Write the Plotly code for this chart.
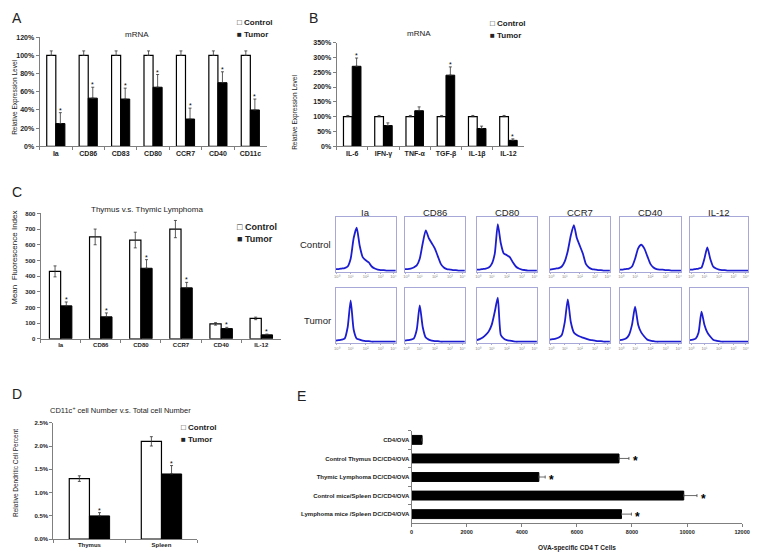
import plotly.graph_objects as go

# The page adds an 8px body margin, so the figure is made smaller and all
# reference pixel positions are shifted by that margin.
PAGE_W, PAGE_H, PAD = 761, 558, 8
W, H = PAGE_W - PAD, PAGE_H - PAD

# ---------------- data ----------------
a_cats = ["Ia", "CD86", "CD83", "CD80", "CCR7", "CD40", "CD11c"]
a_control = [1.00, 1.00, 1.00, 1.00, 1.00, 1.00, 1.00]
a_control_err = [0.05, 0.05, 0.05, 0.05, 0.05, 0.05, 0.05]
a_tumor = [0.25, 0.53, 0.52, 0.65, 0.30, 0.70, 0.40]
a_tumor_err = [0.12, 0.12, 0.12, 0.14, 0.12, 0.12, 0.12]
a_sig = [True, True, True, True, True, True, True]

b_cats = ["IL-6", "IFN-γ", "TNF-α", "TGF-β", "IL-1β", "IL-12"]
b_control = [1.00, 1.00, 1.00, 1.00, 1.00, 1.00]
b_control_err = [0.04, 0.04, 0.04, 0.04, 0.04, 0.04]
b_tumor = [2.70, 0.70, 1.20, 2.40, 0.60, 0.20]
b_tumor_err = [0.28, 0.09, 0.13, 0.28, 0.08, 0.05]
b_sig = [True, False, False, True, False, True]

c_cats = ["Ia", "CD86", "CD80", "CCR7", "CD40", "IL-12"]
c_control = [430, 650, 630, 700, 95, 130]
c_control_err = [35, 50, 50, 55, 8, 8]
c_tumor = [210, 140, 450, 325, 65, 25]
c_tumor_err = [25, 25, 55, 35, 8, 5]
c_sig = [True, True, True, True, True, True]

d_cats = ["Thymus", "Spleen"]
d_control = [1.30, 2.10]
d_control_err = [0.06, 0.10]
d_tumor = [0.50, 1.40]
d_tumor_err = [0.07, 0.18]
d_sig = [True, True]

e_cats = ["CD4/OVA", "Control Thymus DC/CD4/OVA", "Thymic Lymphoma DC/CD4/OVA",
          "Control mice/Spleen DC/CD4/OVA", "Lymphoma mice /Spleen DC/CD4/OVA"]
e_values = [380, 7530, 4620, 9880, 7620]
e_err = [0, 360, 230, 480, 360]
e_sig = [False, True, True, True, True]
e_ticks = [0, 2000, 4000, 6000, 8000, 10000, 12000]

hist_markers = ["Ia", "CD86", "CD80", "CCR7", "CD40", "IL-12"]
hist_x = [0.00, 0.05, 0.10, 0.15, 0.20, 0.25, 0.30, 0.35, 0.40, 0.45, 0.50,
          0.55, 0.60, 0.65, 0.70, 0.75, 0.80, 0.85, 0.90, 0.95, 1.00]
hist_control = [
    [0.05, 0.05, 0.06, 0.07, 0.10, 0.25, 0.65, 0.85, 0.50, 0.28, 0.22, 0.18, 0.10, 0.06, 0.04, 0.03, 0.03, 0.02, 0.02, 0.02, 0.02],
    [0.05, 0.05, 0.06, 0.08, 0.12, 0.25, 0.55, 0.80, 0.65, 0.55, 0.45, 0.30, 0.15, 0.08, 0.05, 0.04, 0.03, 0.03, 0.02, 0.02, 0.02],
    [0.04, 0.04, 0.05, 0.06, 0.08, 0.15, 0.35, 0.92, 0.55, 0.35, 0.32, 0.28, 0.18, 0.10, 0.06, 0.04, 0.03, 0.02, 0.02, 0.02, 0.02],
    [0.04, 0.05, 0.06, 0.07, 0.10, 0.20, 0.40, 0.70, 0.90, 0.65, 0.50, 0.35, 0.15, 0.08, 0.05, 0.04, 0.03, 0.03, 0.02, 0.02, 0.02],
    [0.04, 0.04, 0.05, 0.06, 0.10, 0.25, 0.45, 0.52, 0.45, 0.30, 0.15, 0.08, 0.05, 0.04, 0.04, 0.03, 0.03, 0.02, 0.02, 0.02, 0.02],
    [0.04, 0.04, 0.05, 0.06, 0.08, 0.25, 0.47, 0.25, 0.10, 0.06, 0.04, 0.03, 0.03, 0.02, 0.02, 0.02, 0.02, 0.02, 0.02, 0.02, 0.02],
]
hist_tumor = [
    [0.04, 0.05, 0.06, 0.08, 0.30, 0.82, 0.25, 0.08, 0.06, 0.04, 0.03, 0.03, 0.02, 0.02, 0.02, 0.02, 0.02, 0.02, 0.02, 0.02, 0.02],
    [0.04, 0.05, 0.06, 0.08, 0.25, 0.72, 0.30, 0.10, 0.06, 0.04, 0.03, 0.03, 0.02, 0.02, 0.02, 0.02, 0.02, 0.02, 0.02, 0.02, 0.02],
    [0.05, 0.07, 0.10, 0.15, 0.22, 0.35, 0.60, 0.87, 0.15, 0.08, 0.05, 0.04, 0.03, 0.02, 0.02, 0.02, 0.02, 0.02, 0.02, 0.02, 0.02],
    [0.06, 0.07, 0.08, 0.10, 0.15, 0.40, 0.84, 0.40, 0.20, 0.15, 0.12, 0.10, 0.08, 0.06, 0.05, 0.04, 0.03, 0.03, 0.02, 0.02, 0.02],
    [0.05, 0.06, 0.08, 0.15, 0.35, 0.70, 0.35, 0.20, 0.12, 0.06, 0.04, 0.03, 0.02, 0.02, 0.02, 0.02, 0.02, 0.02, 0.02, 0.02, 0.02],
    [0.05, 0.06, 0.08, 0.20, 0.60, 0.35, 0.20, 0.12, 0.06, 0.04, 0.03, 0.02, 0.02, 0.02, 0.02, 0.02, 0.02, 0.02, 0.02, 0.02, 0.02],
]
hist_tickvals = [0.02, 0.25, 0.5, 0.75, 0.96]
hist_ticktext = ["10⁰", "10¹", "10²", "10³", "10⁴"]

# ---------------- helpers ----------------
FONT = "Liberation Sans, Arial, sans-serif"
AXC = "#7f7f7f"
TXT = "#222222"
BW = 0.28  # bar width in category units


def refs(k):
    return ("x" if k == 1 else f"x{k}", "y" if k == 1 else f"y{k}")


def keys(k):
    return ("xaxis" if k == 1 else f"xaxis{k}", "yaxis" if k == 1 else f"yaxis{k}")


def fx(px):
    return min(max((px - PAD) / W, 0.0), 1.0)


def fy(py):
    return min(max(1 - (py - PAD) / H, 0.0), 1.0)


def dom_x(a, b):
    return [fx(a), fx(b)]


def dom_y(top, bottom):
    return [fy(bottom), fy(top)]


fig = go.Figure()
layout = dict(width=W, height=H, margin=dict(l=0, r=0, t=0, b=0),
              paper_bgcolor="white", plot_bgcolor="white", showlegend=False,
              barmode="overlay", font=dict(family=FONT, color=TXT))
annotations = []


def ann(text, x, y, size, xanchor="center", yanchor="middle", weight="normal", angle=0, color=TXT):
    annotations.append(dict(text=text, x=fx(x), y=fy(y), xref="paper", yref="paper",
                            showarrow=False, xanchor=xanchor, yanchor=yanchor, textangle=angle,
                            font=dict(family=FONT, size=size, color=color, weight=weight)))


def bar_panel(k, cats, ctrl, ctrl_err, tum, tum_err, sig, xpx, ypx, yrange, dtick,
              tickfmt, ticksuffix, fs, ctrl_sym, star_size):
    xr, yr = refs(k)
    xk, yk = keys(k)
    fig.add_trace(go.Bar(x=cats, y=ctrl, xaxis=xr, yaxis=yr, width=BW, offset=-BW,
                         marker=dict(color="white", line=dict(color="black", width=1.2)),
                         error_y=dict(type="data", array=ctrl_err, symmetric=ctrl_sym,
                                      arrayminus=[0] * len(ctrl_err) if not ctrl_sym else None,
                                      color="#333", thickness=0.8, width=1.5)))
    fig.add_trace(go.Bar(x=cats, y=tum, xaxis=xr, yaxis=yr, width=BW, offset=0,
                         marker=dict(color="black", line=dict(color="black", width=1)),
                         error_y=dict(type="data", array=tum_err, symmetric=False,
                                      arrayminus=[0] * len(tum_err),
                                      color="#333", thickness=0.8, width=1.5)))
    layout[xk] = dict(domain=dom_x(*xpx), anchor=yr, type="category", range=[-0.5, len(cats) - 0.5],
                      showline=True, linecolor=AXC, linewidth=1, ticks="outside", tickson="boundaries",
                      ticklen=3, tickcolor=AXC, showgrid=False, zeroline=False,
                      tickfont=dict(size=fs, color=TXT, weight="bold"))
    layout[yk] = dict(domain=dom_y(*ypx), anchor=xr, range=yrange, dtick=dtick, tickformat=tickfmt,
                      ticksuffix=ticksuffix, showline=True, linecolor=AXC, linewidth=1,
                      ticks="outside", ticklen=3, tickcolor=AXC, showgrid=False, zeroline=False,
                      tickfont=dict(size=fs, color=TXT, weight="bold"))
    catpx = (xpx[1] - xpx[0]) / len(cats)
    for c, v, e, s in zip(cats, tum, tum_err, sig):
        if s:
            annotations.append(dict(text="*", x=c, y=v + e, xref=xr, yref=yr, showarrow=False,
                                    xanchor="center", yanchor="bottom", xshift=BW / 2 * catpx,
                                    yshift=-3, font=dict(size=star_size, color="black")))


# Panel A
bar_panel(1, a_cats, a_control, a_control_err, a_tumor, a_tumor_err, a_sig,
          (38, 268), (33.6, 144), [0, 1.2], 0.2, ".0%", "", 7, False, 7)
# Panel B
bar_panel(2, b_cats, b_control, b_control_err, b_tumor, b_tumor_err, b_sig,
          (339, 529), (39, 144), [0, 3.5], 0.5, ".0%", "", 7, False, 7)
# Panel C
bar_panel(3, c_cats, c_control, c_control_err, c_tumor, c_tumor_err, c_sig,
          (39, 283), (212, 339), [0, 800], 100, "d", "", 6, True, 7)
# Panel D
bar_panel(4, d_cats, d_control, d_control_err, d_tumor, d_tumor_err, d_sig,
          (52, 198), (424, 542), [0, 2.5], 0.5, ".1f", "%", 6, True, 7)

# Panel E (horizontal)
xr, yr = refs(5)
xk, yk = keys(5)
fig.add_trace(go.Bar(y=e_cats, x=e_values, orientation="h", xaxis=xr, yaxis=yr, width=0.48,
                     marker=dict(color="black", line=dict(color="black", width=1)),
                     error_x=dict(type="data", array=e_err, symmetric=False, arrayminus=[0] * len(e_err),
                                  color="#444", thickness=0.8, width=1.5)))
layout[xk] = dict(domain=dom_x(415, 750), anchor=yr, range=[0, 12000],
                  tickvals=e_ticks, ticktext=[str(t) for t in e_ticks],
                  showline=True, linecolor=AXC, linewidth=1, ticks="outside", ticklen=3, tickcolor=AXC,
                  showgrid=False, zeroline=False,
                  tickfont=dict(size=5.5, color=TXT, weight="bold"))
layout[yk] = dict(domain=dom_y(432, 526), anchor=xr, type="category", autorange="reversed",
                  showline=True, linecolor=AXC, linewidth=1, ticks="outside", tickson="boundaries",
                  ticklen=3, tickcolor=AXC, showgrid=False, zeroline=False,
                  tickfont=dict(size=6, color=TXT, weight="bold"))
for c, v, e, s in zip(e_cats, e_values, e_err, e_sig):
    if s:
        annotations.append(dict(text="<b>*</b>", x=v + e, y=c, xref=xr, yref=yr, showarrow=False,
                                xanchor="left", yanchor="middle", xshift=2, yshift=-3,
                                font=dict(size=12, color="black")))

# Histograms
col_px = [(338, 399), (408, 469), (481, 542), (555, 616), (626, 688), (697, 756)]
row_px = [(216, 271), (288, 343)]
k = 6
for r, rows in enumerate([hist_control, hist_tumor]):
    for i, ys in enumerate(rows):
        xr, yr = refs(k)
        xk, yk = keys(k)
        fig.add_trace(go.Scatter(x=hist_x, y=ys, xaxis=xr, yaxis=yr, mode="lines",
                                 line=dict(color="#1c1cd0", width=1.8, shape="spline", smoothing=0.6)))
        layout[xk] = dict(domain=dom_x(*col_px[i]), anchor=yr, range=[0, 1], showline=True, mirror=True,
                          linecolor="#a8a8d8", linewidth=1, showgrid=False, zeroline=False,
                          tickvals=hist_tickvals, ticktext=hist_ticktext,
                          ticks="outside", ticklen=1, tickcolor="#a8a8d8",
                          tickfont=dict(size=4, color="#888"))
        layout[yk] = dict(domain=dom_y(*row_px[r]), anchor=xr, range=[0, 1.05], showline=True, mirror=True,
                          linecolor="#a8a8d8", linewidth=1, showgrid=False, zeroline=False,
                          showticklabels=False, ticks="")
        k += 1

# ---------------- text ----------------
ann("A", 8, 14, 14, xanchor="left")
ann("B", 309, 14, 14, xanchor="left")
ann("C", 8, 190, 14, xanchor="left")
ann("D", 8, 395, 14, xanchor="left")
ann("E", 297, 397, 14, xanchor="left")

ann("mRNA", 137, 31, 8)
ann("mRNA", 422, 30, 8)
ann("Thymus v.s. Thymic Lymphoma", 147, 208, 8)
ann("CD11c<sup>+</sup> cell Number v.s. Total cell Number", 120, 411, 7.5)

ann("Relative Expression Level", 13, 94, 6.5, angle=-90)
ann("Relative Expression Level", 297, 110, 6.5, angle=-90)
ann("Mean  Fluorescence Index", 13, 257, 8, angle=-90)
ann("Relative Dendritic Cell Percent", 13, 475, 6.5, angle=-90)
ann("OVA-specific CD4 T Cells", 583, 551, 6.5, weight="bold")

for (lx, ly, fs) in [(236, 19, 8), (492, 20, 8), (236, 226, 9), (179, 429, 8)]:
    ann("□ Control", lx, ly, fs, xanchor="left", weight="bold")
    ann("■ Tumor", lx, ly + 12, fs, xanchor="left", weight="bold")

for name, (x0, x1) in zip(hist_markers, col_px):
    ann(name, (x0 + x1) / 2, 211, 9.5)
ann("Control", 318, 243, 9.5)
ann("Tumor", 320, 320, 9.5)

layout["annotations"] = annotations
fig.update_layout(**layout)
fig.write_html("out.html")
